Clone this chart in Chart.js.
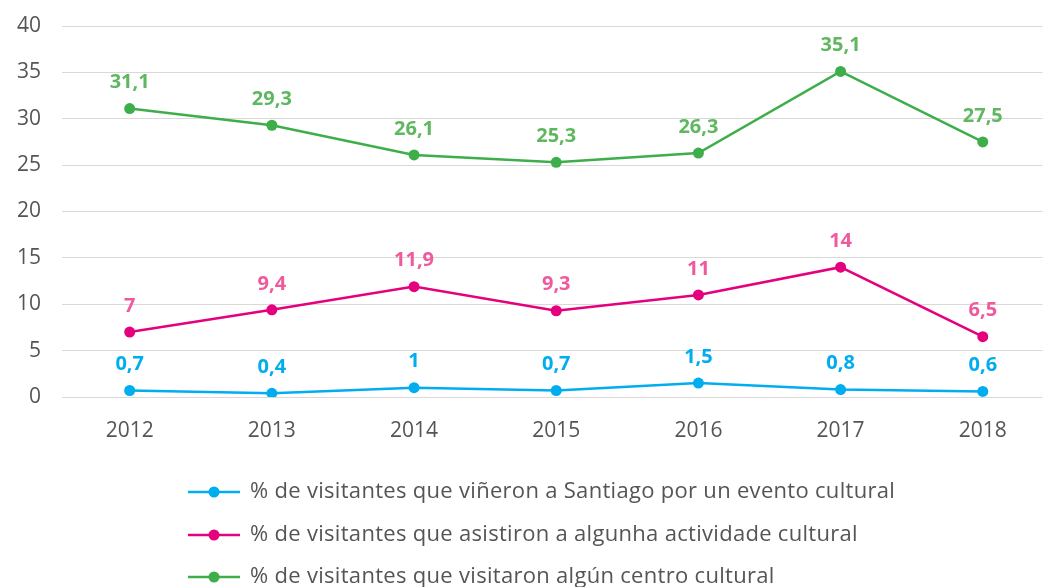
<!DOCTYPE html>
<html>
<head>
<meta charset="utf-8">
<script src="https://cdn.jsdelivr.net/npm/chart.js@4/dist/chart.umd.min.js"></script>
<style>
  html, body { margin: 0; padding: 0; background: #fff; overflow: hidden; }
  #wrap { width: 1048px; height: 587px; position: relative; }
</style>
</head>
<body>
<div id="wrap"><canvas id="c" width="1048" height="587"></canvas></div>
<script>
const categories = ['2012', '2013', '2014', '2015', '2016', '2017', '2018'];
const seriesNames = [
  '% de visitantes que viñeron a Santiago por un evento cultural',
  '% de visitantes que asistiron a algunha actividade cultural',
  '% de visitantes que visitaron algún centro cultural'
];
const eventoCultural = [0.7, 0.4, 1, 0.7, 1.5, 0.8, 0.6];
const actividadeCultural = [7, 9.4, 11.9, 9.3, 11, 14, 6.5];
const centroCultural = [31.1, 29.3, 26.1, 25.3, 26.3, 35.1, 27.5];
const yTicks = [0, 5, 10, 15, 20, 25, 30, 35, 40];

const lineColors = ['#00aeef', '#e5007e', '#3eae4a'];
const labelColors = ['#00aeef', '#ef5a9d', '#5fb75f'];
const FONT = "'Open Sans', sans-serif";

function toPoints(arr) {
  return arr.map((v, i) => ({ x: parseInt(categories[i], 10), y: v }));
}
const seriesValues = [eventoCultural, actividadeCultural, centroCultural];

const datasets = seriesValues.map((vals, i) => ({
  label: seriesNames[i],
  data: toPoints(vals),
  borderColor: lineColors[i],
  backgroundColor: lineColors[i],
  pointBackgroundColor: lineColors[i],
  pointBorderColor: lineColors[i],
  borderWidth: 2.5,
  pointRadius: 5.5,
  pointBorderWidth: 0,
  tension: 0,
  fill: false,
  labelColor: labelColors[i]
}));

const valueLabels = {
  id: 'valueLabels',
  afterDatasetsDraw(chart) {
    const ctx = chart.ctx;
    ctx.save();
    ctx.font = "bold 20px " + FONT;
    ctx.textAlign = 'center';
    ctx.textBaseline = 'middle';
    chart.data.datasets.forEach((ds, di) => {
      const meta = chart.getDatasetMeta(di);
      meta.data.forEach((pt, i) => {
        const v = ds.data[i].y;
        ctx.fillStyle = ds.labelColor;
        ctx.fillText(String(v).replace('.', ','), pt.x, pt.y - 26);
      });
    });
    ctx.restore();
  }
};

const customLegend = {
  id: 'customLegend',
  afterDraw(chart) {
    const ctx = chart.ctx;
    ctx.save();
    const ys = [492, 535, 577];
    chart.data.datasets.forEach((ds, i) => {
      const y = ys[i];
      ctx.strokeStyle = ds.borderColor;
      ctx.lineWidth = 2.5;
      ctx.beginPath();
      ctx.moveTo(188, y);
      ctx.lineTo(240, y);
      ctx.stroke();
      ctx.fillStyle = ds.borderColor;
      ctx.beginPath();
      ctx.arc(214, y, 5.5, 0, Math.PI * 2);
      ctx.fill();
      ctx.fillStyle = '#555555';
      ctx.font = "22px " + FONT;
      if ('letterSpacing' in ctx) ctx.letterSpacing = '0.3px';
      ctx.textAlign = 'left';
      ctx.textBaseline = 'middle';
      ctx.fillText(ds.label, 250, y);
    });
    ctx.restore();
  }
};

new Chart(document.getElementById('c'), {
  type: 'line',
  data: { datasets },
  options: {
    responsive: false,
    animation: false,
    layout: { padding: { top: 26, left: 12, right: 0, bottom: 0 } },
    plugins: {
      legend: { display: false },
      tooltip: { enabled: false }
    },
    scales: {
      x: {
        type: 'linear',
        min: 2011.524,
        max: 2018.42,
        afterFit: (scale) => { scale.height = 190; scale.paddingLeft = 0; scale.paddingRight = 0; },
        border: { display: false },
        grid: { display: false, drawTicks: false },
        ticks: {
          stepSize: 1,
          includeBounds: false,
          padding: 21,
          maxRotation: 0,
          color: '#555555',
          font: { family: FONT, size: 21 },
          callback: (v) => Number.isInteger(v) ? String(v) : ''
        }
      },
      y: {
        min: 0,
        max: 40,
        afterBuildTicks: (scale) => { scale.ticks = yTicks.map(v => ({ value: v })); },
        afterFit: (scale) => { scale.width = 50; scale.paddingTop = 0; scale.paddingBottom = 0; },
        border: { display: false },
        grid: { color: '#d9d9d9', lineWidth: 1, drawTicks: false },
        ticks: {
          padding: 21,
          color: '#555555',
          font: { family: FONT, size: 21 }
        }
      }
    }
  },
  plugins: [valueLabels, customLegend]
});
</script>
</body>
</html>
